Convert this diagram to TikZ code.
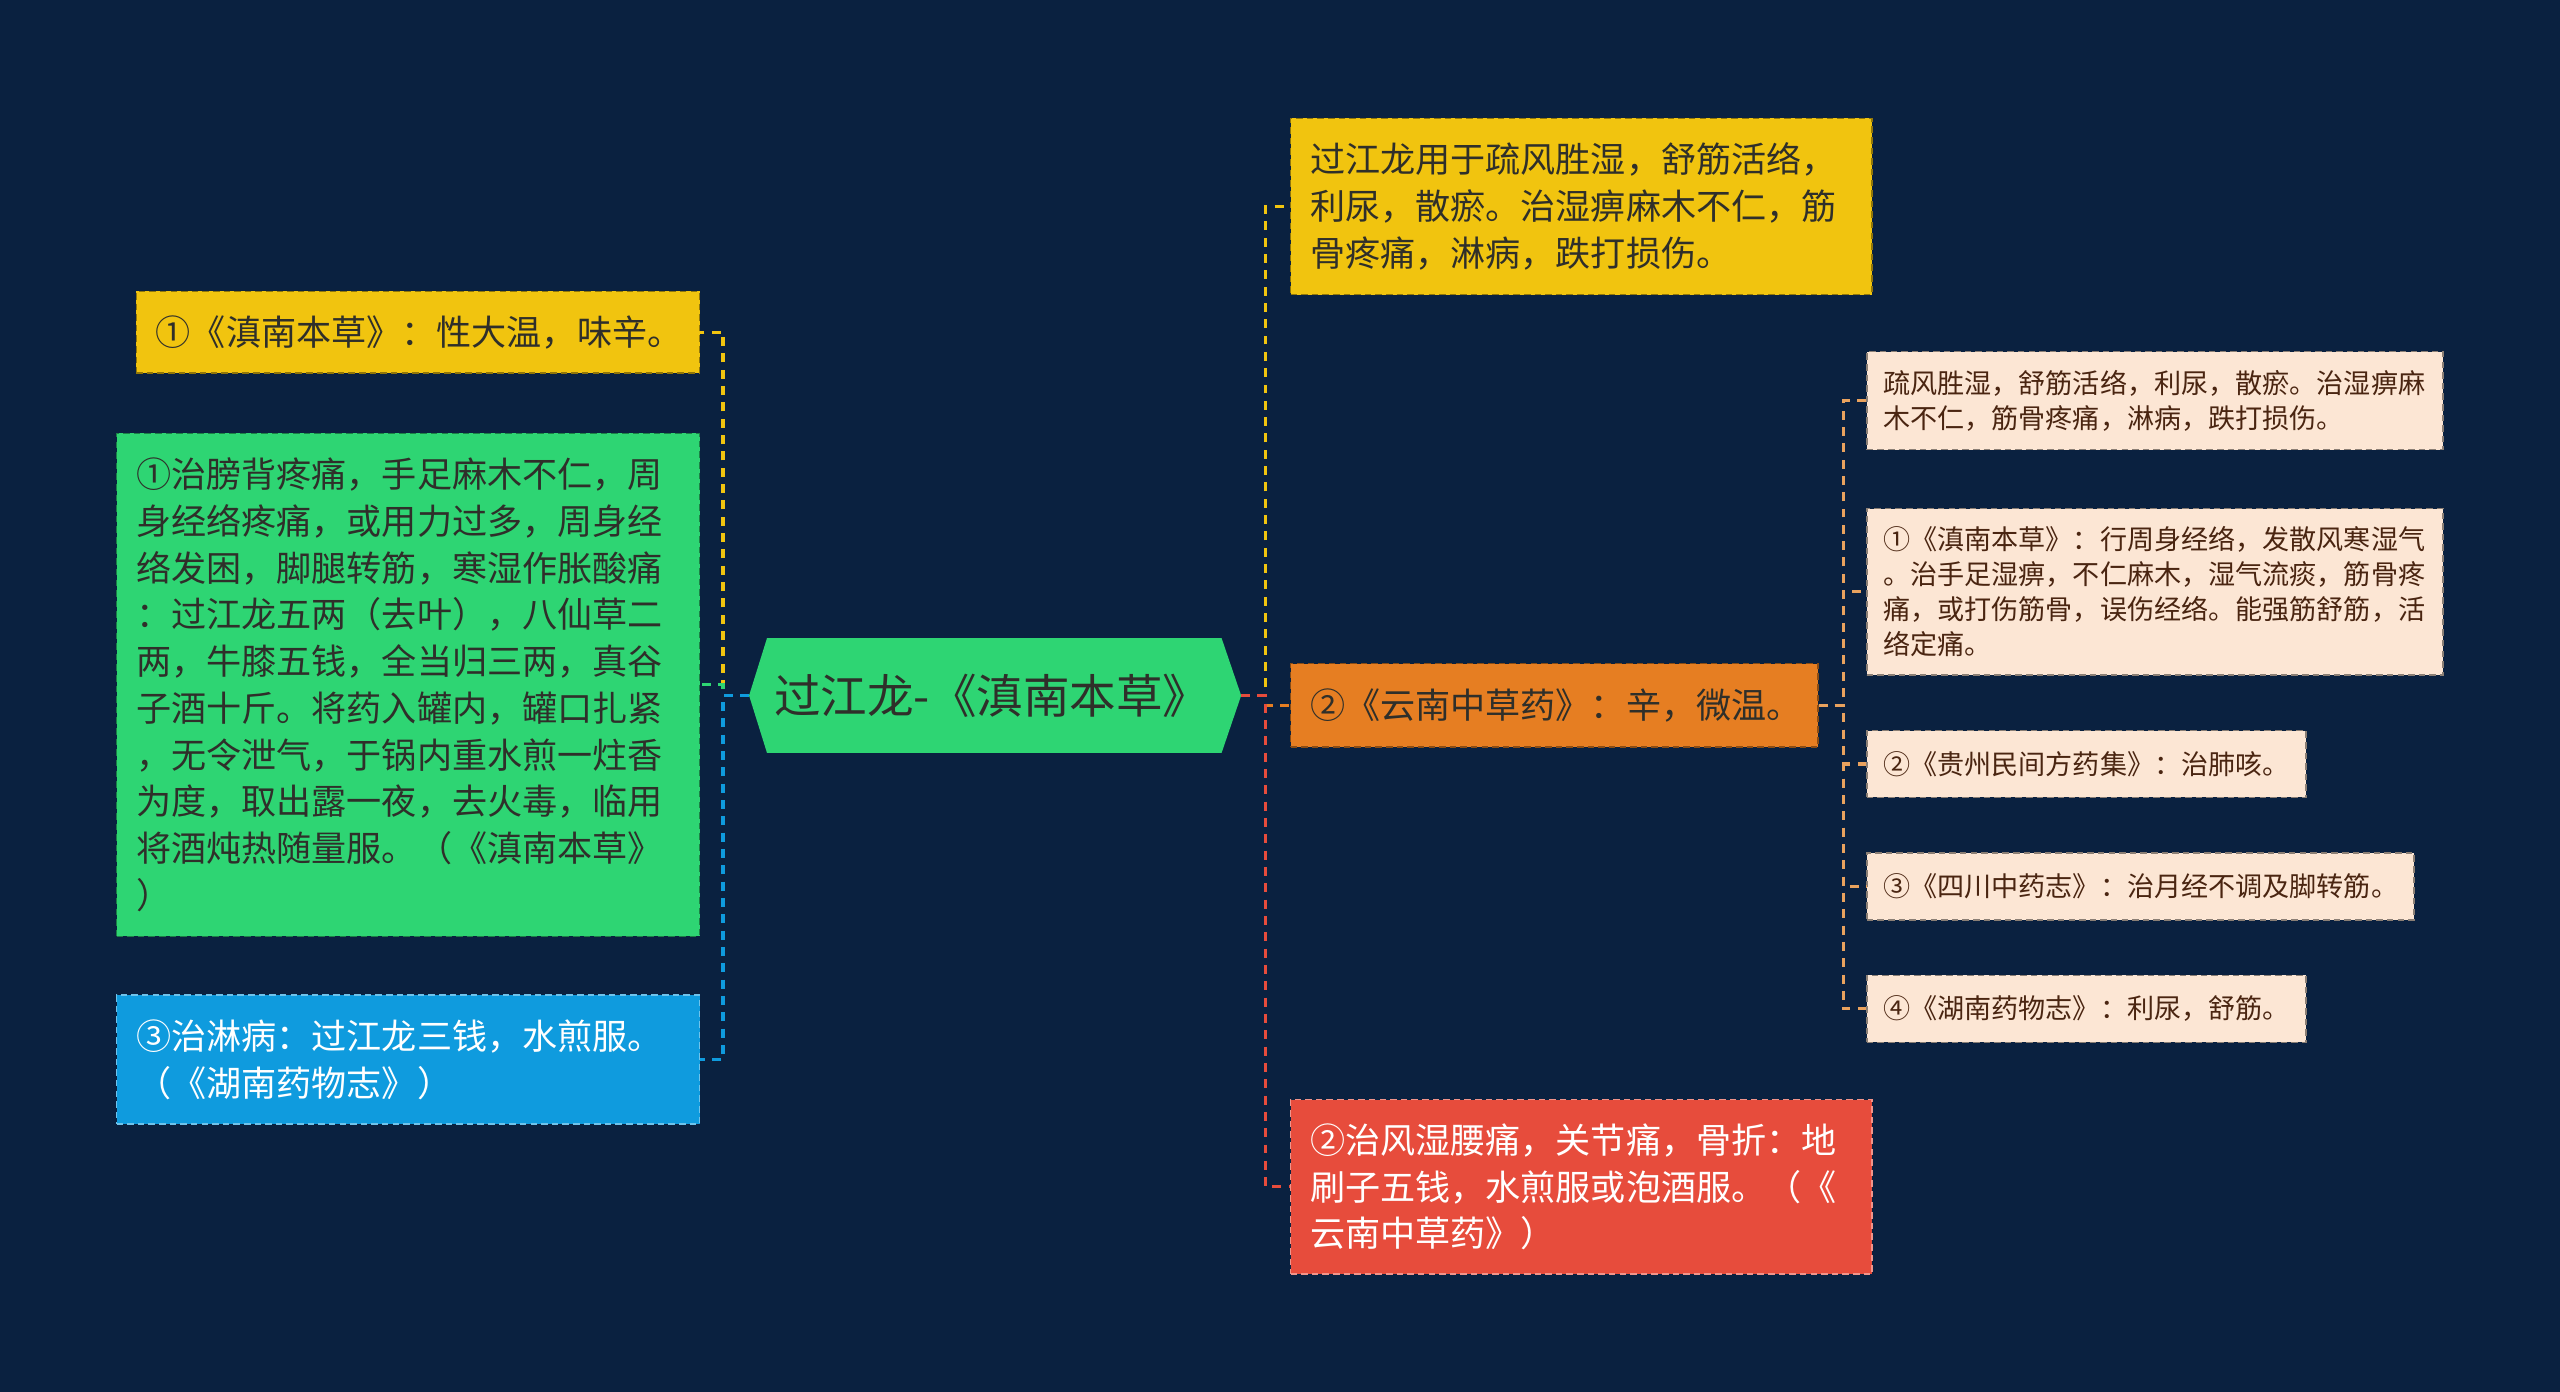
\documentclass[tikz,border=0pt]{standalone}
\usepackage{fontspec}
\setmainfont{Noto Sans CJK SC}
\definecolor{bg}{HTML}{0A2140}
\definecolor{cyellow}{HTML}{F1C40F}
\definecolor{cgreen}{HTML}{2ED573}
\definecolor{cblue}{HTML}{0F9BDE}
\definecolor{corange}{HTML}{E67E22}
\definecolor{cred}{HTML}{E74C3C}
\definecolor{cpeach}{HTML}{FCE6D4}
\definecolor{ctan}{HTML}{E9A25E}
\definecolor{cdark}{HTML}{2F2F2A}
\definecolor{cbrown}{HTML}{4A2511}
\tikzset{
  box/.style={rectangle, anchor=north west, align=left, inner xsep=12pt, inner ysep=0pt,
    line width=0.9pt, dash pattern={on 4pt off 2.5pt},
    font=\fontsize{21.5}{28.6}\selectfont},
  kid/.style={box, inner xsep=10pt, fill=cpeach, draw=cpeach!55!black, text=cbrown,
    font=\fontsize{16.6}{21.5}\selectfont},
  conn/.style={line width=1.9pt, dash pattern={on 5.5pt off 4.5pt}},
}
\begin{document}
\begin{tikzpicture}[x=1pt,y=-1pt]
\useasboundingbox (0,0) rectangle (1568,852);
\fill[bg] (-3,-3) rectangle (1571,855);

% root
\node[minimum width=301pt, minimum height=70pt, inner sep=0pt] (root) at (609.5,426) {};
\fill[cgreen] (root.west) -- ([xshift=11pt]root.north west) -- ([xshift=-12pt]root.north east)
  -- (root.east) -- ([xshift=-12pt]root.south east) -- ([xshift=11pt]root.south west) -- cycle;
\node[minimum width=301pt, minimum height=70pt, inner sep=0pt, text=cdark,
  font=\fontsize{28.5}{30}\selectfont] (roottext) at ([xshift=-2pt]root.center) {过江龙-《滇南本草》};

% left boxes
\node[box, fill=cyellow, draw=cyellow!60!black, text=cdark, text width=321pt, minimum height=50pt]
  (L1) at (83,178) {①《滇南本草》：性大温，味辛。};
\node[box, fill=cgreen, draw=cgreen!60!black, text=cdark, text width=333pt, minimum height=308pt]
  (L2) at (71,265) {①治膀背疼痛，手足麻木不仁，周\\身经络疼痛，或用力过多，周身经\\络发困，脚腿转筋，寒湿作胀酸痛\\：过江龙五两（去叶），八仙草二\\两，牛膝五钱，全当归三两，真谷\\子酒十斤。将药入罐内，罐口扎紧\\，无令泄气，于锅内重水煎一炷香\\为度，取出露一夜，去火毒，临用\\将酒炖热随量服。（《滇南本草》\\）};
\node[box, fill=cblue, draw=cblue!60!white, text=white, text width=333pt, minimum height=79pt]
  (L3) at (71,609) {③治淋病：过江龙三钱，水煎服。\\（《湖南药物志》）};

% right boxes
\node[box, fill=cyellow, draw=cyellow!60!black, text=cdark, text width=332pt, minimum height=108pt]
  (R1) at (790,72) {过江龙用于疏风胜湿，舒筋活络，\\利尿，散瘀。治湿痹麻木不仁，筋\\骨疼痛，淋病，跌打损伤。};
\node[box, fill=corange, draw=corange!60!black, text=cdark, text width=299pt, minimum height=51pt]
  (R2) at (790,406) {②《云南中草药》：辛，微温。};
\node[box, fill=cred, draw=cred!60!white, text=white, text width=332pt, minimum height=107pt]
  (R3) at (790,673) {②治风湿腰痛，关节痛，骨折：地\\刷子五钱，水煎服或泡酒服。（《\\云南中草药》）};

% children of R2
\node[kid, text width=333pt, minimum height=60pt] (C1) at (1143,215)
  {疏风胜湿，舒筋活络，利尿，散瘀。治湿痹麻\\木不仁，筋骨疼痛，淋病，跌打损伤。};
\node[kid, text width=333pt, minimum height=102pt] (C2) at (1143,311)
  {①《滇南本草》：行周身经络，发散风寒湿气\\。治手足湿痹，不仁麻木，湿气流痰，筋骨疼\\痛，或打伤筋骨，误伤经络。能强筋舒筋，活\\络定痛。};
\node[kid, text width=249pt, minimum height=41pt] (C3) at (1143,447)
  {②《贵州民间方药集》：治肺咳。};
\node[kid, text width=315pt, minimum height=41pt] (C4) at (1143,522)
  {③《四川中药志》：治月经不调及脚转筋。};
\node[kid, text width=249pt, minimum height=41pt] (C5) at (1143,597)
  {④《湖南药物志》：利尿，舒筋。};

% connectors left
\draw[conn, cyellow] (root.west) -- ++(-16,0) |- (L1.east);
\draw[conn, cgreen] (root.west) -- ++(-16,0) |- (L2.east);
\draw[conn, cblue] (root.west) -- ++(-16,0) |- (L3.east);
% connectors right
\draw[conn, cyellow] (root.east) -- ++(15,0) |- (R1.west);
\draw[conn, corange] (root.east) -- ++(15,0) |- (R2.west);
\draw[conn, cred] (root.east) -- ++(15,0) |- (R3.west);
% children connectors
\foreach \c in {C1,C2,C3,C4,C5}
  \draw[conn, ctan] (R2.east) -- ++(15,0) |- (\c.west);
\end{tikzpicture}
\end{document}
